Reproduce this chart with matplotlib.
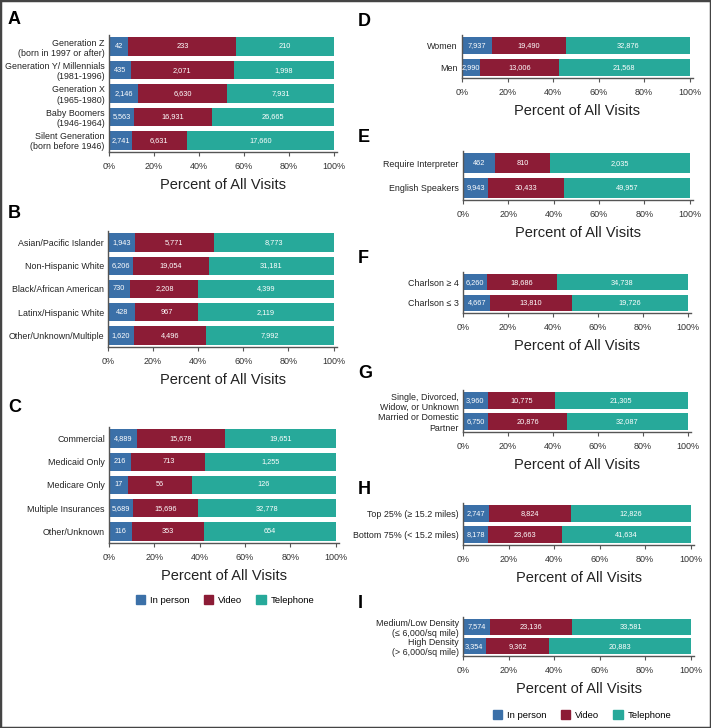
import numpy as np
import matplotlib
matplotlib.use("Agg")
import matplotlib.pyplot as plt
from matplotlib.patches import Rectangle, Patch

plt.rcParams['font.family'] = ['Liberation Sans', 'DejaVu Sans']

W, H = 711, 728

# colours for the three visit types
c_person = '#3b70a8'
c_video = '#8c1c36'
c_phone = '#27a99a'

# --- data (visit counts) ---
a_labels = ['Generation Z\n(born in 1997 or after)', 'Generation Y/ Millennials\n(1981-1996)',
            'Generation X\n(1965-1980)', 'Baby Boomers\n(1946-1964)', 'Silent Generation\n(born before 1946)']
a_person = [42, 435, 2146, 5563, 2741]
a_video = [233, 2071, 6630, 16931, 6631]
a_phone = [210, 1998, 7931, 26665, 17660]

b_labels = ['Asian/Pacific Islander', 'Non-Hispanic White', 'Black/African American',
            'Latinx/Hispanic White', 'Other/Unknown/Multiple']
b_person = [1943, 6206, 730, 428, 1620]
b_video = [5771, 19054, 2208, 967, 4496]
b_phone = [8773, 31181, 4399, 2119, 7992]

c_labels = ['Commercial', 'Medicaid Only', 'Medicare Only', 'Multiple Insurances', 'Other/Unknown']
c_person_n = [4889, 216, 17, 5689, 116]
c_video_n = [15678, 713, 56, 15696, 353]
c_phone_n = [19651, 1255, 126, 32778, 654]

d_labels = ['Women', 'Men']
d_person = [7937, 2990]
d_video = [19490, 13006]
d_phone = [32876, 21568]

e_labels = ['Require Interpreter', 'English Speakers']
e_person = [462, 9943]
e_video = [810, 30433]
e_phone = [2035, 49957]

f_labels = ['Charlson ≥ 4', 'Charlson ≤ 3']
f_person = [6260, 4667]
f_video = [18686, 13810]
f_phone = [34738, 19726]

g_labels = ['Single, Divorced,\nWidow, or Unknown', 'Married or Domestic\nPartner']
g_person = [3960, 6750]
g_video = [10775, 20876]
g_phone = [21305, 32087]

h_labels = ['Top 25% (≥ 15.2 miles)', 'Bottom 75% (< 15.2 miles)']
h_person = [2747, 8178]
h_video = [8824, 23663]
h_phone = [12826, 41634]

i_labels = ['Medium/Low Density\n(≤ 6,000/sq mile)', 'High Density\n(> 6,000/sq mile)']
i_person = [7574, 3354]
i_video = [23136, 9362]
i_phone = [33581, 20883]

xticks = [0, 20, 40, 60, 80, 100]
xticklabels = ['0%', '20%', '40%', '60%', '80%', '100%']

fig = plt.figure(figsize=(W / 100, H / 100), dpi=100)


def panel(x0, y0, x1, y1, letter, lx, ly, labels, person, video, phone):
    ax = fig.add_axes([x0 / W, 1 - y1 / H, (x1 - x0) / W, (y1 - y0) / H])
    person = np.array(person, float)
    video = np.array(video, float)
    phone = np.array(phone, float)
    tot = person + video + phone
    pp, pv, pt = person / tot * 100, video / tot * 100, phone / tot * 100
    y = np.arange(len(labels))
    left = np.zeros(len(labels))
    for pct, cnt, col in [(pp, person, c_person), (pv, video, c_video), (pt, phone, c_phone)]:
        ax.barh(y, pct, left=left, height=0.8, color=col, edgecolor='none')
        for yi, l, w, n in zip(y, left, pct, cnt):
            ax.text(l + w / 2, yi, f'{int(n):,}', ha='center', va='center',
                    color='white', fontsize=5.3)
        left = left + pct
    ax.set_xlim(0, 101.5)
    ax.set_ylim(len(labels) - 0.5, -0.5)
    ax.set_yticks(y)
    ax.set_yticklabels(labels, fontsize=6.4, linespacing=1.15, color='#222222')
    ax.set_xticks(xticks)
    ax.set_xticklabels(xticklabels, fontsize=6.5, color='#333333')
    ax.tick_params(axis='y', length=0, pad=3)
    ax.tick_params(axis='x', length=3, width=0.8, color='#555555', pad=4)
    for s in ['top', 'right']:
        ax.spines[s].set_visible(False)
    for s in ['left', 'bottom']:
        ax.spines[s].set_color('#555555')
        ax.spines[s].set_linewidth(1.0)
    ax.set_xlabel('Percent of All Visits', fontsize=10.5, labelpad=5, color='#222222')
    fig.text(lx / W, 1 - ly / H, letter, fontsize=13, fontweight='bold', ha='left', va='center')
    return ax


panel(109, 35, 337, 152, 'A', 8, 19, a_labels, a_person, a_video, a_phone)
panel(108, 231, 337, 347, 'B', 8, 214, b_labels, b_person, b_video, b_phone)
panel(109, 427, 339, 543, 'C', 8, 407, c_labels, c_person_n, c_video_n, c_phone_n)
panel(462, 35, 693, 78, 'D', 358, 22, d_labels, d_person, d_video, d_phone)
panel(463, 151, 693, 200, 'E', 358, 137, e_labels, e_person, e_video, e_phone)
panel(463, 272, 691, 313, 'F', 358, 258, f_labels, f_person, f_video, f_phone)
panel(463, 390, 691, 432, 'G', 358, 374, g_labels, g_person, g_video, g_phone)
panel(463, 503, 694, 545, 'H', 358, 489, h_labels, h_person, h_video, h_phone)
panel(463, 617, 694, 656, 'I', 358, 603, i_labels, i_person, i_video, i_phone)

handles = [Patch(color=c_person, label='In person'),
           Patch(color=c_video, label='Video'),
           Patch(color=c_phone, label='Telephone')]
for cx, cy in [(225, 600), (582, 715)]:
    fig.legend(handles=handles, loc='center', bbox_to_anchor=(cx / W, 1 - cy / H), ncol=3,
               frameon=False, fontsize=6.8, handlelength=1.0, handleheight=1.0,
               handletextpad=0.5, columnspacing=1.5)

fig.patches.append(Rectangle((0, 0), 1, 1, transform=fig.transFigure, fill=False,
                             linewidth=2.5, edgecolor='#444444'))

fig.savefig('out.png', dpi=100)
